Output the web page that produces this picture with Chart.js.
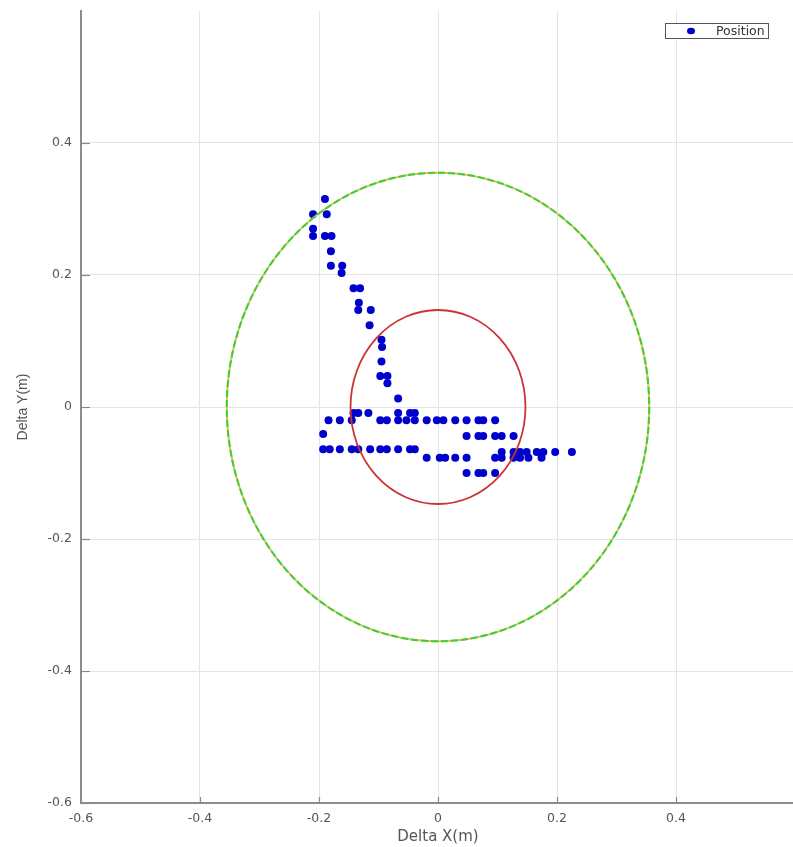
<!DOCTYPE html>
<html>
<head>
<meta charset="utf-8">
<script src="https://cdn.jsdelivr.net/npm/chart.js@4/dist/chart.umd.min.js"></script>
<style>
html,body{margin:0;padding:0;background:#fff;overflow:hidden;}
#wrap{width:793px;height:847px;overflow:hidden;position:relative;}
canvas{display:block;}
</style>
</head>
<body>
<div id="wrap"><canvas id="c" width="800" height="847"></canvas></div>
<script>
// ---- data ----
const seriesLabel = 'Position';
const posX = [
  -0.190,-0.210,-0.187,-0.210,-0.210,-0.190,-0.179,-0.180,-0.180,-0.161,-0.162,-0.142,-0.131,-0.133,-0.134,-0.113,-0.115,
  -0.095,-0.094,-0.095,-0.097,-0.085,-0.085,-0.067,
  -0.142,-0.134,-0.117,-0.067,-0.047,-0.039,
  -0.184,-0.165,-0.145,-0.097,-0.086,-0.067,-0.053,-0.039,-0.019,-0.002,0.009,0.029,0.048,0.068,0.076,0.096,
  -0.193,
  0.048,0.068,0.076,0.096,0.107,0.127,
  -0.193,-0.182,-0.165,-0.145,-0.134,-0.114,-0.097,-0.086,-0.067,-0.047,-0.039,
  0.107,0.127,0.138,0.149,0.166,0.177,0.197,0.225,
  -0.019,0.003,0.012,0.029,0.048,0.096,0.107,0.127,0.138,0.152,0.174,
  0.048,0.068,0.076,0.096
];
const posY = [
  0.315,0.292,0.292,0.270,0.259,0.259,0.259,0.236,0.214,0.214,0.203,0.180,0.180,0.158,0.147,0.147,0.124,
  0.102,0.091,0.069,0.047,0.047,0.036,0.013,
  -0.009,-0.009,-0.009,-0.009,-0.009,-0.009,
  -0.020,-0.020,-0.020,-0.020,-0.020,-0.020,-0.020,-0.020,-0.020,-0.020,-0.020,-0.020,-0.020,-0.020,-0.020,-0.020,
  -0.041,
  -0.044,-0.044,-0.044,-0.044,-0.044,-0.044,
  -0.064,-0.064,-0.064,-0.064,-0.064,-0.064,-0.064,-0.064,-0.064,-0.064,-0.064,
  -0.068,-0.068,-0.068,-0.068,-0.068,-0.068,-0.068,-0.068,
  -0.077,-0.077,-0.077,-0.077,-0.077,-0.077,-0.077,-0.077,-0.077,-0.077,-0.077,
  -0.100,-0.100,-0.100,-0.100
];
const circleCenter = [0, 0];
const circleRadii = [0.355, 0.147]; // outer (green dashed), inner (red)
const xTickValues = [-0.6,-0.4,-0.2,0,0.2,0.4,0.6];
const xTickLabels = ['-0.6','-0.4','-0.2','0','0.2','0.4',''];
const yTickValues = [-0.6,-0.4,-0.2,0,0.2,0.4,0.6];
const yTickLabels = ['-0.6','-0.4','-0.2','0','0.2','0.4',''];
const xTitle = 'Delta X(m)';
const yTitle = 'Delta Y(m)';

const points = posX.map((x,i)=>({x:x, y:posY[i]}));

function zeroPad(s){ s.paddingTop = 0; s.paddingBottom = 0; s.paddingLeft = 0; s.paddingRight = 0; }

const circlesPlugin = {
  id:'circles',
  afterDatasetsDraw(chart){
    const {ctx, scales:{x,y}, chartArea} = chart;
    const cx = x.getPixelForValue(circleCenter[0]);
    const cy = y.getPixelForValue(circleCenter[1]);
    ctx.save();
    ctx.beginPath();
    ctx.rect(chartArea.left, chartArea.top, chartArea.right-chartArea.left, chartArea.bottom-chartArea.top);
    ctx.clip();
    const r0 = circleRadii[0];
    const rx0 = x.getPixelForValue(circleCenter[0]+r0) - cx;
    const ry0 = cy - y.getPixelForValue(circleCenter[1]+r0);
    ctx.lineWidth = 2;
    ctx.strokeStyle = '#d8c25a';
    ctx.beginPath(); ctx.ellipse(cx, cy, rx0, ry0, 0, 0, Math.PI*2); ctx.stroke();
    ctx.setLineDash([7,3]);
    ctx.strokeStyle = '#3ccf3c';
    ctx.beginPath(); ctx.ellipse(cx, cy, rx0, ry0, 0, 0, Math.PI*2); ctx.stroke();
    ctx.setLineDash([]);
    const r1 = circleRadii[1];
    const rx1 = x.getPixelForValue(circleCenter[0]+r1) - cx;
    const ry1 = cy - y.getPixelForValue(circleCenter[1]+r1);
    ctx.lineWidth = 1.8;
    ctx.strokeStyle = '#cc3333';
    ctx.beginPath(); ctx.ellipse(cx, cy, rx1, ry1, 0, 0, Math.PI*2); ctx.stroke();
    ctx.restore();
  },
  afterDraw(chart){
    const {ctx, scales:{x,y}, chartArea} = chart;
    ctx.save();
    ctx.strokeStyle = '#8a8a8a';
    ctx.lineWidth = 1.2;
    xTickValues.forEach((v,i)=>{
      if(!xTickLabels[i]) return;
      const px = Math.round(x.getPixelForValue(v))+0.5;
      ctx.beginPath(); ctx.moveTo(px, chartArea.bottom); ctx.lineTo(px, chartArea.bottom-6); ctx.stroke();
    });
    yTickValues.forEach((v,i)=>{
      if(!yTickLabels[i]) return;
      const py = Math.round(y.getPixelForValue(v))+0.5;
      ctx.beginPath(); ctx.moveTo(chartArea.left, py); ctx.lineTo(chartArea.left+9, py); ctx.stroke();
    });
    const bx = 665, by = 23, bw = 103, bh = 15;
    ctx.fillStyle = '#ffffff';
    ctx.fillRect(bx, by, bw, bh);
    ctx.strokeStyle = '#555';
    ctx.lineWidth = 1;
    ctx.strokeRect(bx+0.5, by+0.5, bw, bh);
    ctx.fillStyle = '#0000cc';
    ctx.beginPath(); ctx.ellipse(691, by+bh/2+0.5, 4, 3.2, 0, 0, Math.PI*2); ctx.fill();
    ctx.fillStyle = '#333';
    ctx.font = '12.5px "DejaVu Sans"';
    ctx.textBaseline = 'middle';
    ctx.textAlign = 'left';
    ctx.fillText(chart.data.datasets[0].label, 716, by+bh/2+1);
    ctx.restore();
  }
};

new Chart(document.getElementById('c'), {
  type:'scatter',
  data:{ datasets:[{
    label: seriesLabel,
    data: points,
    backgroundColor:'#0000cc',
    borderWidth:0,
    pointRadius:4,
    pointHoverRadius:4,
    pointStyle:'circle'
  }]},
  options:{
    responsive:false,
    animation:false,
    events:[],
    layout:{padding:{top:11,right:5,left:0,bottom:0}},
    plugins:{legend:{display:false}, tooltip:{enabled:false}},
    scales:{
      x:{
        type:'linear', min:-0.6, max:0.6,
        afterBuildTicks(s){ s.ticks = xTickValues.map(v=>({value:v})); },
        afterFit(s){ s.height = 44; zeroPad(s); },
        ticks:{
          callback:(v,i)=>xTickLabels[i],
          color:'#555', font:{family:'DejaVu Sans', size:12.5}, padding:8, maxRotation:0, autoSkip:false
        },
        grid:{
          drawTicks:false,
          color:(c)=> (c.tick && (c.tick.value===0.6)) ? 'rgba(0,0,0,0)' : '#e4e4e4',
          lineWidth:1
        },
        border:{color:'#8c8c8c', width:2},
        title:{display:true, text:xTitle, color:'#555', font:{family:'DejaVu Sans', size:15}, padding:{top:0,bottom:1}}
      },
      y:{
        type:'linear', min:-0.6, max:0.6,
        afterBuildTicks(s){ s.ticks = yTickValues.map(v=>({value:v})); },
        afterFit(s){ s.width = 81; zeroPad(s); },
        ticks:{
          callback:(v,i)=>yTickLabels[i],
          color:'#555', font:{family:'DejaVu Sans', size:12.5}, padding:9, autoSkip:false
        },
        grid:{
          drawTicks:false,
          color:(c)=> (c.tick && (c.tick.value===0.6)) ? 'rgba(0,0,0,0)' : '#e4e4e4',
          lineWidth:1
        },
        border:{color:'#8c8c8c', width:2},
        title:{display:true, text:yTitle, color:'#555', font:{family:'Liberation Sans', size:14}, padding:{top:15,bottom:0}}
      }
    }
  },
  plugins:[circlesPlugin]
});
</script>
</body>
</html>
